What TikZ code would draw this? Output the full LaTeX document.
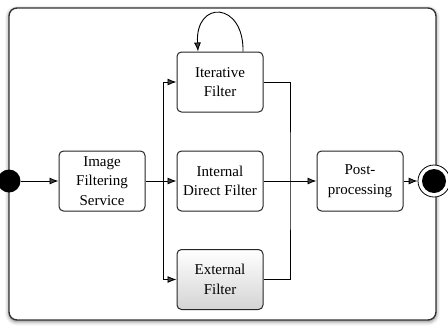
\documentclass[tikz,border=0pt]{standalone}
\usepackage{fontspec}
\setmainfont{Liberation Serif}
\usetikzlibrary{arrows.meta,shadows.blur,positioning}

\tikzset{
  state/.style={draw=black!85, line width=1pt, rounded corners=4.5pt,
    minimum width=86pt, minimum height=60pt, align=center, inner sep=2pt,
    font=\fontsize{15}{19.5}\selectfont},
  shadedstate/.style={state, top color=white, bottom color=black!17},
  flow/.style={line width=0.9pt, -{Latex[length=9pt,width=7pt]}},
  plain/.style={line width=0.9pt},
  initial/.style={circle, fill=black, minimum size=23pt, inner sep=0pt},
  final/.style={circle, draw=black, line width=0.8pt, fill=white,
    minimum size=32pt, inner sep=0pt,
    path picture={\fill[black] (path picture bounding box.center) circle (12pt);}},
  frame/.style={draw=black!80, line width=1.4pt, rounded corners=8pt, fill=white,
    blur shadow={shadow xshift=0pt, shadow yshift=-1.5pt,
      shadow blur radius=4pt, shadow opacity=55}}
}

\begin{document}
\begin{tikzpicture}[x=1pt, y=-1pt]
  \useasboundingbox (0,0) rectangle (448,325);

  % enclosing activity frame
  \path[frame] (9,8) rectangle (436,320);

  % states
  \node[state] (img)    at (102,181) {Image\\Filtering\\Service};
  \node[state] (iter)   at (220,82)  {Iterative\\Filter};
  \node[state] (intern) at (220,181) {Internal\\Direct Filter};
  \node[shadedstate] (extern) at (220,279.5) {External\\Filter};
  \node[state] (post)   at (360,181) {Post-\\processing};

  % pseudo states
  \node[initial] (start) at (9,181) {};
  \node[final]   (end)   at (434,181) {};

  % fork and join points
  \coordinate (split) at (163,181);
  \coordinate (merge) at (290,181);

  % transitions
  \draw[flow] (start) -- (img);
  \draw[flow] (img) -- (intern);
  \draw[flow] (split) |- (iter);
  \draw[flow] (split) |- (extern);
  \draw[plain] (iter.east) -| (merge) |- (extern.east);
  \draw[flow] (intern) -- (post);
  \draw[flow] (post) -- (end);

  % self transition of the iterative filter
  \draw[flow] ([xshift=23pt]iter.north) .. controls +(1,-50) and +(-3,-52) .. ([xshift=-22pt]iter.north);
\end{tikzpicture}
\end{document}
